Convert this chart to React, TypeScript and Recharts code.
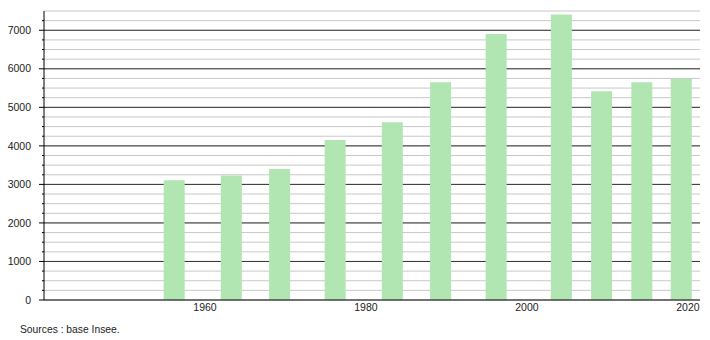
import { BarChart, Bar, XAxis, YAxis, CartesianGrid } from "recharts";

// census years as placed on the time axis, and population
const years = [1956.2, 1963.3, 1969.3, 1976.2, 1983.3, 1989.3, 1996.2, 2004.3, 2009.3, 2014.3, 2019.2];
const population = [3110, 3230, 3400, 4150, 4610, 5650, 6900, 7410, 5420, 5650, 5740];

const xTicks = [1960, 1980, 2000, 2020];
const yTicks = [
    0, 250, 500, 750, 1000, 1250, 1500, 1750, 2000, 2250, 2500, 2750, 3000, 3250, 3500, 3750,
    4000, 4250, 4500, 4750, 5000, 5250, 5500, 5750, 6000, 6250, 6500, 6750, 7000, 7250, 7500,
];
const yMajor = [1000, 2000, 3000, 4000, 5000, 6000, 7000];

const data = years.map((year, i) => ({ year, pop: population[i] }));

const FONT = '"Liberation Sans", Arial, sans-serif';
const AXIS_X = 44;

function YTick(props: any) {
    const { y, payload } = props;
    const v = payload.value as number;
    const major = v % 1000 === 0;
    if (v === 7500) return null;
    return (
        <g>
            <line x1={AXIS_X - (major ? 5 : 2)} x2={AXIS_X} y1={y} y2={y} stroke="#000" />
            {major && (
                <text x={31} y={y} dy="0.35em" textAnchor="end" fontSize={10.5} fill="#222" fontFamily={FONT}>
                    {v}
                </text>
            )}
        </g>
    );
}

export default function App() {
    return (
        <div style={{ position: "absolute", left: 0, top: 0, width: 710, height: 340, background: "#fff" }}>
            <BarChart width={710} height={340} data={data} margin={{ top: 11, right: 10, left: 0, bottom: 0 }}>
                <CartesianGrid vertical={false} horizontalValues={yTicks} stroke="#c8c8c8" strokeWidth={1} />
                <CartesianGrid vertical={false} horizontalValues={yMajor} stroke="#333" strokeWidth={1} />
                <XAxis
                    dataKey="year"
                    type="number"
                    domain={[1940, 2021.5]}
                    ticks={xTicks}
                    allowDataOverflow
                    height={40}
                    tickLine={false}
                    tickSize={0}
                    tickMargin={4}
                    axisLine={{ stroke: "#000" }}
                    tick={{ fontSize: 10.5, fill: "#222", fontFamily: FONT }}
                />
                <YAxis
                    type="number"
                    domain={[0, 7500]}
                    ticks={yTicks}
                    interval={0}
                    width={44}
                    tickLine={false}
                    axisLine={{ stroke: "#000" }}
                    tick={<YTick />}
                />
                <Bar dataKey="pop" fill="#b1e5b1" barSize={21} isAnimationActive={false} />
            </BarChart>
            <div
                style={{
                    position: "absolute",
                    left: 20,
                    top: 324,
                    fontSize: 10.3,
                    color: "#222",
                    fontFamily: FONT,
                }}
            >
                Sources : base Insee.
            </div>
        </div>
    );
}
